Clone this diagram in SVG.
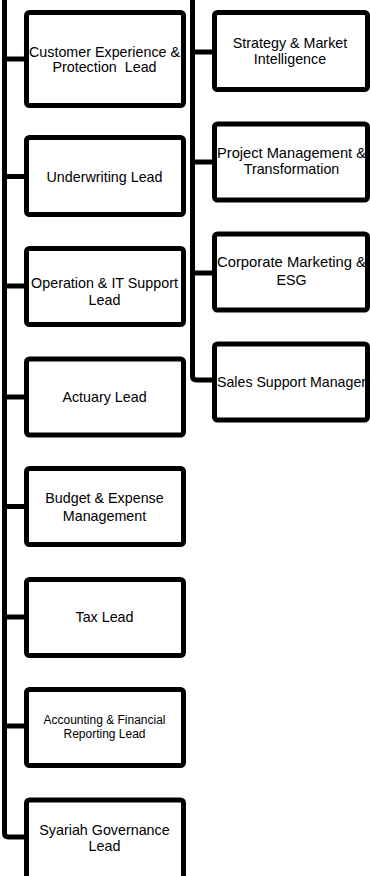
<svg xmlns="http://www.w3.org/2000/svg" width="370" height="876" viewBox="0 0 370 876">
<style>
.box{fill:#fff;stroke:#000;stroke-width:5;stroke-linejoin:round}
.ln{fill:none;stroke:#000;stroke-width:5;stroke-linejoin:round}
text{font-family:"Liberation Sans",Arial,sans-serif;font-size:14.3px;fill:#000;text-anchor:middle}
.sm{font-size:12px}
</style>
<rect width="370" height="876" fill="#fff"/>
<g id="connectors">
<path class="ln" d="M4.5 0 V833 Q4.5 837 8.5 837 H27"/>
<path class="ln" d="M4.5 59 H27 M4.5 176.5 H27 M4.5 286 H27 M4.5 397 H27 M4.5 506.5 H27 M4.5 617 H27 M4.5 726 H27"/>
<path class="ln" d="M192.5 0 V376 Q192.5 380 196.5 380 H215"/>
<path class="ln" d="M192.5 52 H215 M192.5 162 H215 M192.5 273 H215"/>
</g>
<g id="n-customer"><rect class="box" x="26.5" y="12.5" width="157" height="93" rx="3"/><text x="104.5" y="57" textLength="151" lengthAdjust="spacingAndGlyphs">Customer Experience &amp;</text><text x="104.5" y="72" xml:space="preserve">Protection  Lead</text></g>
<g id="n-underwriting"><rect class="box" x="26.5" y="137.5" width="157" height="77" rx="3"/><text x="104.5" y="181.5">Underwriting Lead</text></g>
<g id="n-operation"><rect class="box" x="26.5" y="248.5" width="157" height="76" rx="3"/><text x="104.5" y="287.5">Operation &amp; IT Support</text><text x="104.5" y="305">Lead</text></g>
<g id="n-actuary"><rect class="box" x="26.5" y="359" width="157" height="76" rx="3"/><text x="104.5" y="401.7">Actuary Lead</text></g>
<g id="n-budget"><rect class="box" x="26.5" y="468.5" width="157" height="76" rx="3"/><text x="104.5" y="502.5">Budget &amp; Expense</text><text x="104.5" y="520.5">Management</text></g>
<g id="n-tax"><rect class="box" x="26.5" y="579.5" width="157" height="76" rx="3"/><text x="104.5" y="621.7">Tax Lead</text></g>
<g id="n-accounting"><rect class="box" x="26.5" y="689.5" width="157" height="76" rx="3"/><text class="sm" x="104.5" y="724.3">Accounting &amp; Financial</text><text class="sm" x="104.5" y="738.3">Reporting Lead</text></g>
<g id="n-syariah"><rect class="box" x="26.5" y="800" width="157" height="80" rx="3"/><text x="104.5" y="835">Syariah Governance</text><text x="104.5" y="850.7">Lead</text></g>
<g id="n-strategy"><rect class="box" x="214.5" y="12.5" width="153" height="77" rx="3"/><text x="290" y="47.7">Strategy &amp; Market</text><text x="290" y="64">Intelligence</text></g>
<g id="n-project"><rect class="box" x="214.5" y="124" width="153" height="76" rx="3"/><text x="291.5" y="157.7" textLength="149" lengthAdjust="spacingAndGlyphs">Project Management &amp;</text><text x="291.5" y="174">Transformation</text></g>
<g id="n-corporate"><rect class="box" x="214.5" y="234" width="153" height="76" rx="3"/><text x="291.5" y="267.3" textLength="149" lengthAdjust="spacingAndGlyphs">Corporate Marketing &amp;</text><text x="291.5" y="285">ESG</text></g>
<g id="n-sales"><rect class="box" x="214.5" y="344" width="153" height="76" rx="3"/><text x="291.5" y="386.7" textLength="149" lengthAdjust="spacingAndGlyphs">Sales Support Manager</text></g>
</svg>
